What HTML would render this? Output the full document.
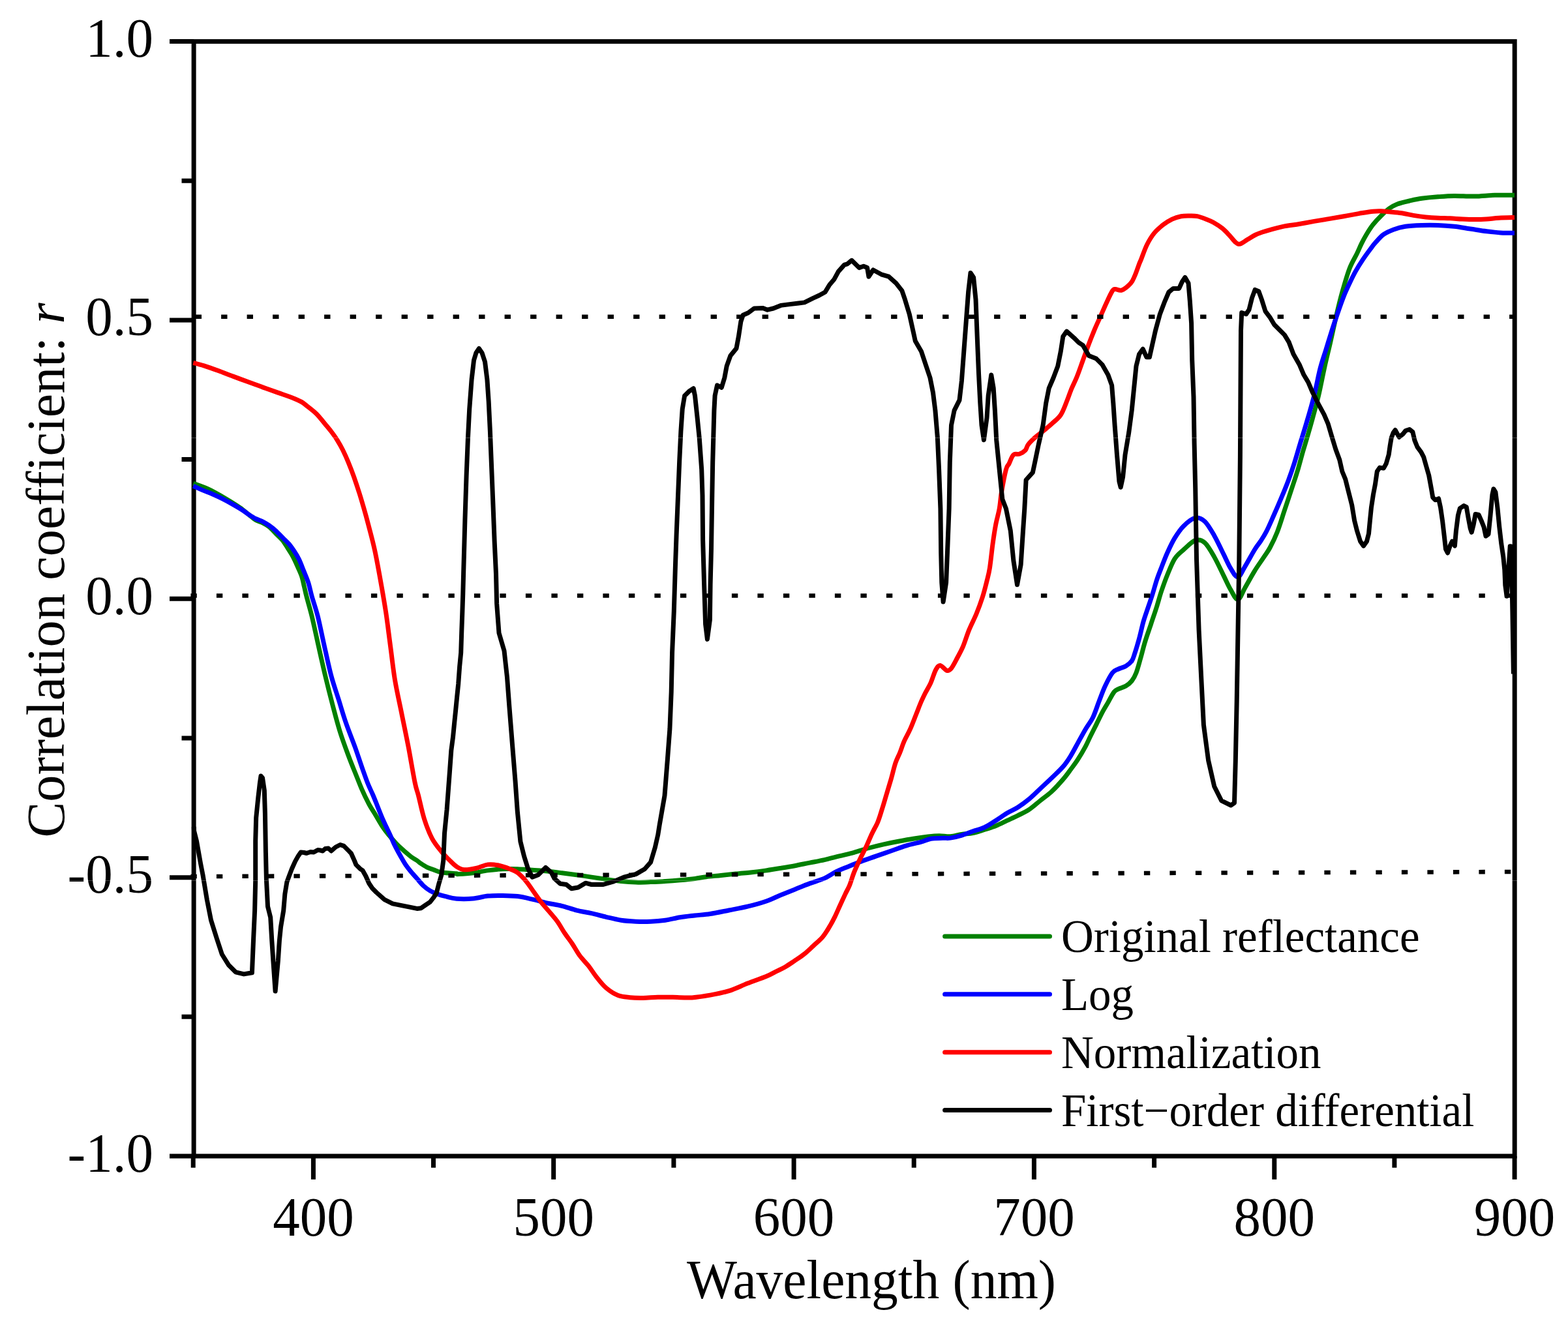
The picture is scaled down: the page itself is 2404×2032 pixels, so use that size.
<!DOCTYPE html>
<html><head><meta charset="utf-8"><title>Correlation coefficient chart</title>
<style>html,body{margin:0;padding:0;background:#fff;width:2404px;height:2032px;overflow:hidden}svg{display:block}</style>
</head><body>
<svg width="2404" height="2032" viewBox="0 0 2404 2032">
<rect width="2404" height="2032" fill="#fff"/>
<rect x="297.1" y="63.6" width="2025.1" height="1709.4" fill="none" stroke="#000" stroke-width="7"/>
<path fill="none" stroke="#000" stroke-width="7" d="M260 63.6 H297.1 M260 490.9 H297.1 M260 918.3 H297.1 M260 1345.7 H297.1 M260 1773 H297.1 M278.5 277.3 H297.1 M278.5 704.6 H297.1 M278.5 1132 H297.1 M278.5 1559.3 H297.1 M480.4 1773 V1808.8 M848.7 1773 V1808.8 M1217.1 1773 V1808.8 M1585.4 1773 V1808.8 M1953.8 1773 V1808.8 M2322.1 1773 V1808.8 M296.2 1773 V1790.8 M664.5 1773 V1790.8 M1032.9 1773 V1790.8 M1401.2 1773 V1790.8 M1769.6 1773 V1790.8 M2137.9 1773 V1790.8"/>
<g fill="none" stroke-linejoin="round" stroke-linecap="butt" stroke-width="7">
<path stroke="#008000" d="M296.3 741.3C300.4 742.8 313.2 747.2 320.6 750.6C328.1 754 334.2 757.9 341 761.8C347.8 765.7 356.3 770.9 361.4 774.1C366.5 777.3 368.2 778.7 371.6 781.2C375 783.8 378.4 786.7 381.8 789.4C385.2 792.1 388.6 795.6 392 797.6C395.4 799.6 398.8 799.9 402.2 801.6C405.6 803.3 409 805.1 412.4 807.8C415.8 810.5 419.3 814.6 422.7 818C426.1 821.4 429.8 824.5 432.9 828.2C435.9 831.9 438.3 836.1 441 840.4C443.7 844.6 446.8 849.3 449.2 853.7C451.6 858.1 453.1 862 455.3 866.9C457.5 871.8 460.5 877.8 462.4 883.3C464.3 888.8 465.2 894.8 466.5 900C467.8 905.2 467.9 906.8 469.9 914.4C471.8 922 475.3 933.4 478.2 945.4C481.1 957.4 483.9 971.1 487.3 986.2C490.7 1001.3 494.8 1020.1 498.6 1036C502.4 1051.9 506.2 1067 510 1081.4C513.8 1095.8 517.1 1109 521.3 1122.2C525.4 1135.4 530.9 1150 534.9 1160.8C538.9 1171.6 542.1 1179 545.4 1187.2C548.7 1195.4 551.2 1202.3 554.5 1209.9C557.8 1217.5 561.8 1225.8 565.4 1232.6C569 1239.4 572.7 1244.7 576.3 1250.7C579.9 1256.7 583.9 1263.8 587.2 1268.8C590.5 1273.8 592.7 1276.4 596.2 1280.6C599.7 1284.8 604.1 1290.1 608 1294.2C611.9 1298.3 616 1301.8 619.8 1305.1C623.6 1308.4 627.4 1311.7 630.7 1314.2C634 1316.7 637.5 1318.4 639.8 1320C642.1 1321.6 641.9 1322 644.3 1323.6C646.7 1325.2 651 1328.1 654.3 1329.8C657.6 1331.5 660.9 1332.3 664.2 1333.6C667.5 1334.8 671.1 1336.5 674.2 1337.3C677.3 1338.1 678.6 1338.2 682.9 1338.6C687.2 1339 696.7 1339.5 700 1339.8C703.3 1340.1 698.5 1340.8 702.7 1340.6C706.9 1340.4 717.9 1339.8 725.4 1338.8C732.9 1337.8 740.5 1335.9 748 1334.9C755.5 1333.9 763.1 1333.1 770.7 1332.7C778.3 1332.3 785.9 1332.5 793.4 1332.7C800.9 1333 808.5 1333.7 816 1334.2C823.5 1334.8 831.1 1335.2 838.7 1336C846.3 1336.8 853.8 1337.8 861.4 1338.8C869 1339.8 876.5 1340.7 884.1 1341.7C891.7 1342.8 899.2 1344 906.8 1345.1C914.3 1346.2 921.8 1347.4 929.4 1348.5C937 1349.6 944.5 1350.7 952.1 1351.5C959.7 1352.3 967.2 1352.9 974.8 1353.1C982.4 1353.3 990 1352.9 997.5 1352.6C1005 1352.3 1012.6 1352 1020.1 1351.5C1027.7 1351 1035.2 1350.4 1042.8 1349.7C1050.4 1349 1058.8 1348.2 1065.5 1347.4C1072.2 1346.6 1076 1345.5 1082.7 1344.7C1089.4 1343.9 1097.9 1343.2 1105.4 1342.4C1113 1341.6 1120.5 1340.8 1128 1340.1C1135.5 1339.3 1143.1 1338.7 1150.7 1337.9C1158.3 1337.1 1165.8 1336.2 1173.4 1335.1C1181 1334 1188.5 1332.7 1196.1 1331.5C1203.6 1330.3 1211.2 1329.1 1218.7 1327.7C1226.2 1326.3 1233.8 1324.6 1241.4 1323.1C1249 1321.6 1256.5 1320.3 1264.1 1318.6C1271.7 1316.9 1279.2 1314.8 1286.8 1312.9C1294.3 1311 1301.9 1309.4 1309.4 1307.3C1317 1305.2 1324.5 1302.6 1332.1 1300.5C1339.7 1298.4 1347.2 1296.5 1354.8 1294.8C1362.4 1293.1 1370 1291.6 1377.5 1290.2C1385 1288.8 1392.5 1287.4 1400.1 1286.2C1407.6 1285 1416.1 1283.8 1422.8 1283C1429.5 1282.2 1434.3 1281.7 1440 1281.7C1445.7 1281.7 1451.5 1283.2 1457.2 1282.8C1463 1282.4 1468.8 1280.2 1474.5 1279.4C1480.2 1278.6 1486 1278.9 1491.7 1277.7C1497.5 1276.5 1503.2 1274.3 1509 1272.5C1514.8 1270.7 1520.5 1269 1526.2 1266.7C1532 1264.4 1537.8 1261.4 1543.5 1258.7C1549.2 1256 1555 1253.5 1560.7 1250.6C1566.5 1247.7 1572.2 1245.2 1578 1241.4C1583.8 1237.6 1589.5 1232.2 1595.2 1227.6C1601 1223 1606.8 1219.2 1612.5 1213.8C1618.2 1208.4 1624.9 1201 1629.7 1195.4C1634.5 1189.9 1637.4 1185.7 1641.2 1180.5C1645 1175.3 1648.9 1170.4 1652.7 1164.4C1656.5 1158.5 1661 1150.7 1664.2 1144.8C1667.4 1138.9 1668.9 1134.8 1671.7 1129.2C1674.5 1123.6 1677.8 1117.1 1680.8 1111.1C1683.8 1105 1686.8 1098.6 1689.8 1092.9C1692.8 1087.2 1695.9 1082.4 1698.9 1077.1C1701.9 1071.8 1705.3 1064.6 1708 1061.2C1710.7 1057.8 1711.8 1058.1 1714.8 1056.6C1717.8 1055.1 1722.7 1054.2 1726.1 1052.1C1729.5 1050 1732.5 1047.6 1735.2 1044.2C1737.9 1040.8 1739.7 1037.6 1742 1031.7C1744.3 1025.8 1746.5 1016.9 1748.8 1009C1751.1 1001.1 1752.9 992.8 1755.6 984.1C1758.2 975.4 1761.7 966 1764.7 956.9C1767.7 947.8 1771.1 938 1773.7 929.7C1776.3 921.4 1777.8 915 1780.5 907C1783.2 899 1786.2 890.3 1789.6 882C1793 873.7 1796.8 863.6 1800.9 857.1C1805.1 850.6 1809.2 847.9 1814.5 843.2C1819.8 838.5 1827.2 830.5 1832.7 828.7C1838.2 826.9 1842.4 828.1 1847.2 832.3C1852 836.5 1856.9 845.6 1861.7 854.1C1866.5 862.6 1872 874.6 1876.2 883.1C1880.4 891.6 1883.5 898.9 1887.1 904.9C1890.7 910.9 1894.4 920 1898 919.4C1901.6 918.8 1904.7 908.5 1908.9 901.2C1913.1 893.9 1918.6 883.6 1923.4 875.8C1928.2 867.9 1934 860.1 1937.9 854.1C1941.8 848.1 1943.6 846.4 1947 840C1950.4 833.6 1954.5 825.4 1958.3 815.7C1962.1 806 1965.9 793 1969.7 781.7C1973.5 770.4 1977.6 758.1 1981 747.7C1984.4 737.3 1987.3 728.9 1990.1 719.4C1992.9 709.9 1995.5 699.5 1998 691C2000.5 682.5 2002.3 676.8 2004.8 668.3C2007.3 659.8 2010 650.3 2012.8 640C2015.6 629.7 2018.6 619.3 2021.6 606.5C2024.6 593.7 2027.7 577 2030.7 563.4C2033.7 549.8 2036.7 538.1 2039.7 524.9C2042.7 511.7 2045.8 497 2048.8 484.1C2051.8 471.2 2054.5 459.9 2057.9 447.8C2061.3 435.7 2065.4 421.3 2069.2 411.5C2073 401.7 2077.4 395.2 2080.5 388.8C2083.6 382.4 2085.1 378.2 2087.5 373.4C2089.9 368.5 2092 364.5 2094.9 359.7C2097.8 354.9 2101.2 349.5 2104.9 344.7C2108.7 339.9 2113.2 335.1 2117.4 331C2121.6 326.9 2125.7 322.8 2129.8 319.8C2134 316.8 2137.1 315 2142.3 313C2147.5 311 2154.8 309.4 2161 308C2167.2 306.6 2172.4 305.3 2179.7 304.3C2187 303.3 2196.3 302.4 2204.6 301.8C2212.9 301.2 2220.2 300.6 2229.5 300.5C2238.8 300.4 2250.2 301.3 2260.6 301.1C2271 300.9 2281.6 299.6 2291.8 299.3C2302 299 2317 299.3 2322 299.3"/>
<path stroke="#0000ff" d="M296.3 745.3C298.6 746.3 305.5 749.5 310.4 751.6C315.3 753.7 320.6 755.6 325.7 757.8C330.8 760 335.9 762.3 341 764.9C346.1 767.5 351.2 770.2 356.3 773.1C361.4 776 367.4 779.5 371.6 782.2C375.9 784.9 378.4 787.2 381.8 789.4C385.2 791.6 388.6 793.8 392 795.5C395.4 797.2 398.8 797.9 402.2 799.6C405.6 801.3 409 803.3 412.4 805.7C415.8 808.1 418.9 810.5 422.7 813.9C426.4 817.3 431.5 822.7 434.9 826.1C438.3 829.5 440.4 831.1 443.1 834.3C445.8 837.5 448.6 841.6 451.2 845.5C453.8 849.4 456 852.9 458.4 857.8C460.8 862.7 463.1 869.1 465.5 875.1C467.9 881.1 470.6 887 472.7 893.5C474.8 900 475.7 905.8 478.1 914.4C480.5 923 484.3 933.4 487.3 945.4C490.3 957.4 492.9 971.1 496.3 986.2C499.7 1001.3 503.9 1021.6 507.7 1036C511.5 1050.3 515.2 1060.2 519 1072.3C522.8 1084.4 526.2 1096.5 530.4 1108.6C534.6 1120.7 539.8 1133.3 544 1144.9C548.2 1156.5 552.1 1168.8 555.4 1178.1C558.7 1187.4 560.9 1194 563.6 1200.8C566.3 1207.6 569.1 1213 571.7 1219C574.3 1225 576.6 1231.1 579 1237.1C581.4 1243.1 584 1249.9 586.3 1255.2C588.6 1260.5 590.5 1264.3 592.6 1268.8C594.7 1273.3 597.1 1278.2 599 1282.4C600.9 1286.6 602.1 1290 604 1294C605.9 1298 608.3 1302.5 610.5 1306.5C612.7 1310.5 615 1314.6 617 1318C619 1321.4 620.4 1324 622.5 1327C624.6 1330 626.6 1332.6 629.4 1336C632.2 1339.4 636 1343.5 639.3 1347.3C642.6 1351 646 1355.4 649.3 1358.5C652.6 1361.6 655.8 1363.9 659.3 1366C662.8 1368.1 666.6 1369.5 670.5 1371C674.4 1372.5 678 1373.5 682.9 1374.7C687.8 1375.9 692.9 1377.7 700 1378.2C707.1 1378.8 717.4 1378.7 725.4 1378C733.4 1377.3 740.5 1374.8 748 1374.1C755.5 1373.3 763.1 1373.4 770.7 1373.5C778.3 1373.6 785.9 1373.7 793.4 1374.6C800.9 1375.5 808.5 1377.4 816 1379.1C823.5 1380.8 831.1 1383.1 838.7 1384.8C846.3 1386.5 853.8 1387.4 861.4 1389.3C869 1391.2 876.5 1394.2 884.1 1396.1C891.7 1398 899.2 1399 906.8 1400.7C914.3 1402.4 921.8 1404.5 929.4 1406.3C937 1408.1 944.5 1410.1 952.1 1411.3C959.7 1412.5 967.2 1412.9 974.8 1413.2C982.4 1413.5 990 1413.5 997.5 1413.2C1005 1412.9 1012.6 1412.4 1020.1 1411.3C1027.7 1410.2 1035.3 1408 1042.8 1406.8C1050.3 1405.6 1057.3 1404.9 1065 1404C1072.7 1403.1 1080 1402.8 1088.7 1401.5C1097.5 1400.2 1107.9 1397.9 1117.5 1396C1127.1 1394.1 1136.6 1392.5 1146.2 1390.2C1155.8 1387.9 1166.7 1384.9 1175 1382C1183.3 1379.1 1188.8 1376 1196.1 1373C1203.4 1370 1211.2 1366.9 1218.7 1363.9C1226.2 1360.9 1233.8 1357.7 1241.4 1354.9C1249 1352.1 1257.3 1349.9 1264.1 1346.9C1270.9 1343.9 1276.5 1339.5 1282.2 1336.7C1287.9 1333.9 1291.7 1332.5 1298.1 1329.9C1304.5 1327.3 1313.2 1323.7 1320.8 1320.9C1328.3 1318.1 1335.9 1315.6 1343.4 1312.9C1351 1310.2 1358.5 1307.6 1366.1 1305C1373.7 1302.4 1381.2 1299.4 1388.8 1297.1C1396.4 1294.8 1405.1 1293.2 1411.5 1291.4C1417.9 1289.6 1421.6 1287.2 1427.3 1286.2C1433 1285.2 1440.5 1285.5 1445.5 1285.3C1450.5 1285.1 1452.4 1285.8 1457.2 1285.1C1462 1284.4 1468.8 1282.8 1474.5 1281.1C1480.2 1279.4 1486 1276.8 1491.7 1274.8C1497.5 1272.8 1503.2 1271.7 1509 1269C1514.8 1266.3 1520.5 1262.3 1526.2 1258.7C1532 1255.1 1537.8 1250.7 1543.5 1247.2C1549.2 1243.8 1555 1241.7 1560.7 1238C1566.5 1234.3 1572.2 1230.1 1578 1225.3C1583.8 1220.5 1589.5 1214.6 1595.2 1209.2C1601 1203.8 1606.8 1198.6 1612.5 1193.1C1618.2 1187.5 1624.9 1181.5 1629.7 1175.9C1634.5 1170.4 1637.4 1165.9 1641.2 1159.8C1645 1153.7 1648.9 1146 1652.7 1139.1C1656.5 1132.2 1660.4 1124.9 1664.2 1118.4C1668 1111.9 1672.2 1107.3 1675.7 1100C1679.2 1092.7 1682.2 1082.8 1685.3 1074.8C1688.4 1066.8 1691 1059.3 1694.4 1052.1C1697.8 1044.9 1702.3 1036 1705.7 1031.7C1709.1 1027.4 1711.4 1027.7 1714.8 1026C1718.2 1024.3 1722.7 1023.6 1726.1 1021.5C1729.5 1019.4 1732.9 1016.8 1735.2 1013.6C1737.5 1010.4 1737.8 1007.9 1739.7 1002.2C1741.6 996.5 1744.2 987.8 1746.5 979.5C1748.8 971.2 1751 960.2 1753.3 952.3C1755.6 944.4 1757.8 938.7 1760.1 931.9C1762.4 925.1 1764.6 918.7 1766.9 911.5C1769.2 904.3 1771.4 895.6 1773.7 888.8C1776 882 1777.8 877.5 1780.5 870.7C1783.2 863.9 1786.2 855.5 1789.6 848C1793 840.5 1796.8 832.2 1800.9 825.4C1805.1 818.5 1809.2 812.1 1814.5 806.9C1819.8 801.7 1827.2 795.4 1832.7 794.2C1838.2 793 1842.4 795.2 1847.2 799.7C1852 804.2 1856.9 813 1861.7 821.4C1866.5 829.8 1872 841.9 1876.2 850.4C1880.4 858.9 1883.5 866.5 1887.1 872.2C1890.7 878 1894.4 885.5 1898 884.9C1901.6 884.3 1904.7 875.5 1908.9 868.6C1913.1 861.7 1919.5 849.6 1923.4 843.2C1927.3 836.9 1929.3 835.1 1932.3 830.5C1935.3 825.9 1937.9 822.3 1941.3 815.7C1944.7 809.1 1948.9 799.3 1952.7 790.8C1956.5 782.3 1960.2 773.8 1964 764.7C1967.8 755.6 1972 745.5 1975.4 736.4C1978.8 727.3 1981.4 719.8 1984.4 710.3C1987.4 700.8 1990.3 690.2 1993.5 679.7C1996.7 669.2 1999.9 659.5 2003.4 647.3C2007 635.1 2011.4 620.1 2014.8 606.5C2018.2 592.9 2020.9 577.4 2023.9 565.7C2026.9 554 2029.9 546 2032.9 536.2C2035.9 526.4 2039 516.2 2042 506.8C2045 497.4 2048.1 488.2 2051.1 479.5C2054.1 470.8 2057.1 462.2 2060.1 454.6C2063.1 447.1 2066.2 440.6 2069.2 434.2C2072.2 427.8 2074.9 422.2 2078.3 416.1C2081.7 410.1 2085.8 403.6 2089.6 397.9C2093.4 392.2 2097.8 386.3 2101 382C2104.2 377.7 2105.3 375.9 2108.7 372.2C2112 368.5 2116.5 363 2121.1 359.7C2125.7 356.4 2130.5 354.3 2136.1 352.2C2141.7 350.1 2147.4 348.3 2154.7 347.2C2162 346.1 2171.4 345.7 2179.7 345.4C2188 345.1 2196.3 345.1 2204.6 345.4C2212.9 345.7 2221.2 346.3 2229.5 347.2C2237.8 348.1 2246.1 349.8 2254.4 351C2262.7 352.2 2271 353.7 2279.3 354.7C2287.6 355.7 2297.1 356.8 2304.2 357.2C2311.3 357.6 2319 357.2 2322 357.2"/>
<path stroke="#ff0000" d="M296.3 556.3C299 557 306.2 558.7 312.7 560.8C319.2 562.9 327.8 566 335.4 568.8C342.9 571.6 350.4 574.6 358 577.4C365.6 580.2 373.1 583 380.7 585.8C388.3 588.6 395.8 591.4 403.4 594.1C410.9 596.8 418.4 599.4 426 602.1C433.6 604.8 442.6 607.8 448.7 610.2C454.8 612.6 458.5 614.2 462.3 616.4C466.1 618.6 467.6 620.2 471.4 623.2C475.2 626.2 480.5 630 485 634.5C489.5 639 494.8 645.8 498.6 650.4C502.4 655 504.9 657.9 508 662C511.1 666.1 514.1 670.1 517 674.8C519.9 679.5 522.7 684.3 525.5 690C528.3 695.7 531.2 702 534 708.8C536.8 715.6 539.7 723 542.5 731C545.3 739 548.4 748.3 551 756.5C553.6 764.7 555.7 772.1 558 780C560.3 787.9 561.8 793.3 564.6 804.1C567.4 814.9 571.4 829 574.8 844.9C578.2 860.8 582.2 883.4 585 899.3C587.8 915.2 589.5 924.8 591.8 940.1C594.1 955.4 596.3 974.2 598.6 991.2C600.9 1008.2 602.6 1025.2 605.4 1042.2C608.2 1059.2 612.2 1076.2 615.6 1093.2C619 1110.2 622.5 1126.4 625.9 1144.2C629.3 1162 633.5 1187.4 636.1 1200C638.7 1212.6 639 1210.3 641.4 1219.6C643.8 1228.9 646.9 1244.7 650.4 1255.7C653.9 1266.7 657.9 1277.3 662.4 1285.8C666.9 1294.3 673.2 1301.4 677.5 1306.8C681.8 1312.2 684.2 1314.3 688 1318C691.8 1321.7 696 1326.4 700 1329C704 1331.6 706.7 1333.4 711.7 1333.8C716.7 1334.2 723.9 1332.8 729.9 1331.5C735.9 1330.2 742.3 1326.7 748 1325.9C753.7 1325.2 758.2 1325.9 763.9 1327C769.6 1328.1 777.1 1330.8 782 1332.7C786.9 1334.6 789.2 1335.1 793.4 1338.3C797.6 1341.5 802.9 1347 807 1351.9C811.1 1356.8 814.5 1362.5 818.3 1367.8C822.1 1373.1 825.5 1378.4 829.7 1383.7C833.9 1389 839.1 1394.6 843.3 1399.5C847.4 1404.4 850.8 1407.9 854.6 1413.2C858.4 1418.5 862.1 1425.6 865.9 1431.3C869.7 1437 873.5 1441.5 877.3 1447.2C881.1 1452.9 884.5 1459.6 888.6 1465.3C892.8 1471 898 1475.9 902.2 1481.2C906.4 1486.5 909.1 1491.4 913.6 1497.1C918.1 1502.8 923.7 1510.3 929.4 1515.2C935.1 1520.1 941.5 1524.1 947.6 1526.5C953.7 1528.9 959.3 1529 965.7 1529.7C972.1 1530.4 978.9 1530.5 986.1 1530.4C993.3 1530.3 1001.2 1529.5 1008.8 1529.3C1016.4 1529.1 1022.8 1529.2 1031.5 1529.3C1040.2 1529.4 1051.5 1530.4 1061 1529.9C1070.5 1529.4 1079.3 1527.8 1088.7 1526.1C1098.1 1524.4 1107.9 1522.6 1117.5 1519.6C1127.1 1516.6 1136.6 1511.8 1146.2 1508.1C1155.8 1504.4 1167.8 1500.3 1175 1497.3C1182.2 1494.3 1184.6 1492.5 1189.4 1490.1C1194.2 1487.7 1198.9 1485.8 1203.7 1483C1208.5 1480.2 1213.3 1476.8 1218.1 1473.6C1222.9 1470.4 1227.7 1467.4 1232.5 1463.6C1237.3 1459.8 1242.1 1455 1246.9 1450.6C1251.7 1446.2 1257.1 1441.8 1261.2 1437C1265.3 1432.2 1268.2 1427.1 1271.3 1421.9C1274.4 1416.8 1277.3 1411.4 1279.9 1406.1C1282.5 1400.8 1284.5 1396 1287.1 1390.2C1289.7 1384.5 1293.2 1377 1295.7 1371.6C1298.2 1366.2 1300.1 1363.6 1302.4 1358C1304.7 1352.4 1306.7 1344.7 1309.4 1337.9C1312.1 1331.2 1315.5 1323.9 1318.5 1317.5C1321.5 1311.1 1324.6 1305.7 1327.6 1299.3C1330.6 1292.9 1333.6 1285.3 1336.6 1278.9C1339.6 1272.5 1343 1267.2 1345.7 1260.8C1348.4 1254.4 1350.2 1247.6 1352.5 1240.4C1354.8 1233.2 1357 1225.3 1359.3 1217.7C1361.6 1210.1 1363.8 1202.9 1366.1 1195C1368.4 1187.1 1370.6 1176.9 1372.9 1170.1C1375.2 1163.3 1377.4 1159.9 1379.7 1154.2C1382 1148.5 1383.8 1142.1 1386.5 1136.1C1389.2 1130 1392.6 1124.7 1395.6 1117.9C1398.6 1111.1 1402 1101.9 1404.7 1095.2C1407.4 1088.5 1409.3 1083.2 1411.5 1078C1413.7 1072.8 1415.5 1069.1 1418 1064C1420.5 1058.9 1424 1053.7 1426.8 1047.6C1429.6 1041.5 1432.2 1031.7 1434.7 1027.2C1437.2 1022.7 1438.7 1020.2 1441.5 1020.4C1444.3 1020.6 1448.9 1027.5 1451.7 1028.3C1454.5 1029 1455.8 1028.1 1458.5 1024.9C1461.2 1021.7 1464.6 1014.7 1467.6 1009C1470.6 1003.3 1473.7 998.1 1476.7 990.9C1479.7 983.7 1482.4 974.2 1485.8 965.9C1489.2 957.6 1493.7 949.3 1497.1 941C1500.5 932.7 1503.5 924.4 1506.2 916.1C1508.9 907.8 1511.1 898.7 1513 891.1C1514.9 883.5 1516 880.2 1517.5 870.7C1519 861.2 1520.5 845.4 1522 834.4C1523.5 823.4 1524.9 814 1526.6 804.9C1528.3 795.8 1530.7 788.5 1532.2 780C1533.7 771.5 1533.9 764.1 1535.6 754.1C1537.3 744.1 1540.5 727.3 1542.4 720.1C1544.3 712.9 1545.1 714.9 1547 711.1C1548.9 707.3 1551.1 700 1553.8 697.5C1556.5 695 1559.9 697.4 1562.9 696.3C1565.9 695.2 1569.6 693.2 1571.9 690.7C1574.2 688.2 1573.8 685 1576.5 681.6C1579.2 678.2 1584 673.6 1587.8 670.2C1591.6 666.8 1594.9 664.6 1599.1 661.2C1603.2 657.8 1608.2 654 1612.7 649.8C1617.2 645.6 1622.5 641.9 1626.3 636.2C1630.1 630.5 1632.8 622.2 1635.4 615.8C1638.1 609.4 1639.6 604.1 1642.2 597.7C1644.8 591.3 1648.3 584.9 1651.3 577.3C1654.3 569.7 1657.4 560.6 1660.4 552.3C1663.4 544 1666.4 535.3 1669.4 527.4C1672.4 519.5 1675.5 511.9 1678.5 504.7C1681.5 497.5 1684.6 491.1 1687.6 484.3C1690.6 477.5 1693.6 470.3 1696.6 463.9C1699.6 457.5 1703.4 449.2 1705.7 445.8C1708 442.4 1707.8 443.6 1710.2 443.5C1712.6 443.4 1716.1 446.5 1720 445C1723.9 443.5 1730.3 438 1733.6 434.4C1736.9 430.8 1737.5 428 1739.7 423.1C1741.9 418.2 1744.9 409.1 1746.5 404.9C1748.1 400.7 1747.5 402.8 1749.5 397.9C1751.5 392.9 1755.1 382 1758.5 375.2C1761.9 368.4 1765.7 362.2 1769.9 357.1C1774.1 352 1779 348.1 1783.5 344.6C1788 341.1 1792.6 338.4 1797.1 336.2C1801.6 334 1806.2 332.6 1810.7 331.7C1815.2 330.8 1820.2 331 1824.3 331C1828.4 331 1831.4 330.8 1835.6 331.7C1839.8 332.6 1845.1 334.6 1849.3 336.2C1853.5 337.8 1856.4 338.8 1860.6 341.2C1864.8 343.6 1870 346.9 1874.2 350.3C1878.4 353.7 1882.1 358 1885.5 361.6C1888.9 365.2 1891.9 369.7 1894.6 371.8C1897.2 373.9 1898.4 374.9 1901.4 374.1C1904.4 373.4 1908.9 369.6 1912.7 367.3C1916.5 365 1920.3 362.4 1924.1 360.5C1927.9 358.6 1931.6 357.3 1935.4 356C1939.2 354.7 1941.1 354.1 1946.8 352.6C1952.5 351.1 1961.9 348.4 1969.4 346.9C1977 345.4 1984.5 344.8 1992.1 343.5C1999.7 342.2 2007.2 340.7 2014.8 339.4C2022.4 338.1 2030 336.9 2037.5 335.6C2045 334.3 2052.5 333 2060.1 331.7C2067.7 330.4 2075.3 328.9 2082.8 327.6C2090.3 326.4 2099.1 324.8 2104.9 324.2C2110.7 323.6 2113.2 323.7 2117.4 323.8C2121.6 323.9 2124.6 324.3 2129.8 324.8C2135 325.3 2142.3 325.8 2148.5 326.7C2154.7 327.6 2161 329.4 2167.2 330.4C2173.4 331.4 2179.7 332.3 2185.9 332.9C2192.1 333.5 2198.4 333.9 2204.6 334.2C2210.8 334.5 2217.1 334.5 2223.3 334.8C2229.5 335.1 2235.8 335.7 2242 336C2248.2 336.3 2254.4 336.6 2260.6 336.6C2266.8 336.6 2273.1 336.4 2279.3 336C2285.5 335.6 2290.9 334.6 2298 334.2C2305.1 333.8 2318 333.6 2322 333.5"/>
<path stroke="#000" d="M297.2 1268 297.5 1274 301.5 1290 304.5 1307 307.5 1324 311 1341.9 317.3 1379.6 323.5 1411.1 332 1438.3 340.3 1463.5 350.8 1480.3 361.3 1490.8 373.9 1493.9 386.4 1491.8 388.5 1442.5 390.6 1396.4 391.7 1350.3 391.7 1289.5 392.7 1253.9 395.9 1222.4 398.5 1200 400 1190 402.5 1193 405.3 1211.9 406.4 1247.6 407.4 1306.3 408.4 1348.2 410.5 1390.1 414.7 1406.9 416.8 1442.5 418.9 1474 422.1 1520.1 426.3 1474 428.4 1442.5 430.5 1421.6 434.7 1396.4 436.8 1371.3 439.9 1352.4 443.7 1342.3 447.5 1332.3 452.5 1321.1 457.4 1312.4 461.2 1307 466.2 1307.5 470 1308.5 476 1306.5 481 1307 487.3 1303.5 491.1 1304 494.8 1305 498.6 1301.5 503.5 1301 507.9 1305 514.7 1299 521.6 1295.5 527.2 1297.4 534.7 1304.9 538.4 1308.7 543.4 1319.9 545.9 1326.1 552.1 1332.3 555.9 1334.8 560.8 1343.5 565.8 1354.7 570.8 1362.2 577 1368.5 589.5 1379.7 602 1385.9 614.4 1388.4 626.9 1390.9 639.3 1393.4 645.6 1392.7 651.8 1388.4 659.3 1383.4 664.2 1377.2 669.2 1369.7 673 1354.7 676.7 1342.3 679.7 1320 681.5 1278 685.1 1241.6 687.8 1205.4 689.7 1180 691.8 1150.9 694.5 1130.5 696.5 1110.1 698.6 1089.7 700.6 1069.3 702.7 1048.8 704.7 1021.6 706.7 1001.2 707.8 967.2 708.8 940 709.8 910 710.6 880 712.9 797.5 715.1 729.4 717.4 672.7 719.7 627.4 723.1 582 726.5 552.6 729.9 541.2 734.4 534.4 739 541.2 743.5 554.8 746.9 582 749.2 616 751.4 661.4 753.7 718.1 756 774.8 758.2 831.5 760.5 880 761.6 925.4 765 970.7 773 997.9 777.5 1038.7 780.9 1084.1 785.4 1140.8 790 1197.5 793.4 1245.4 797.9 1290.7 803.6 1313.4 809.3 1331.5 816 1345.1 825.1 1341.7 836.5 1330.4 845.5 1338.3 850.1 1347.4 859.1 1355.3 868.2 1356.5 876.1 1362.8 886.3 1361 897.7 1354.2 906.8 1356.5 924.9 1356.5 940.8 1351.9 956.6 1345.1 974.8 1340.6 988.4 1332.7 997.5 1322.4 1004.3 1299.8 1008.8 1280 1011.1 1265.5 1019 1220.1 1023.5 1163.4 1026.9 1118.1 1029.2 1061.4 1030.6 1000 1033.3 936.9 1035.4 868.8 1037.1 820.1 1039.4 763.4 1041.7 706.8 1043.9 661.4 1046.2 627.4 1049.6 607 1056.4 600.2 1063.2 595.6 1065.5 607 1068.9 638.7 1072.3 672.7 1075.7 720 1077 760 1077.6 828 1079.6 896 1081.6 957.3 1084.4 980.4 1088.4 950.5 1089.1 896 1090.5 841.6 1091.8 760 1092.7 708.8 1094.9 629.4 1096.1 606.8 1099.5 590.9 1106.3 594.3 1110.8 579.5 1114.2 561.4 1119.9 545.5 1129 534.2 1132.4 516 1135.8 493.4 1139.2 483.2 1147.1 479.8 1156.2 473 1169.8 472.5 1176.6 475.2 1185.6 473 1197 468.4 1210.6 466.6 1224.2 465 1233.3 463.9 1246.9 457.1 1255.9 453 1265 448 1271.8 436.7 1278.6 428.8 1285.4 416.3 1294.5 406.1 1299 404.9 1305.8 399.3 1317.2 410.6 1324 408.3 1329.6 410.6 1331.9 424.2 1338.7 414 1351.2 420.8 1362.5 424.2 1373.9 434.4 1382.9 445.8 1387.5 459.4 1394.3 482 1398.8 502.4 1403.3 522.9 1412.4 538.7 1419.2 559.1 1426 579.5 1430.5 602.2 1433.9 629.4 1437.3 670.2 1439.6 720.1 1441.9 780 1442.7 848 1443.8 893.4 1446.1 922.9 1450.6 893.4 1452.9 836.7 1455.1 780 1456.3 708.8 1458.5 652.1 1463.1 629.4 1471 613.6 1474.4 584.1 1477.8 538.7 1481.2 493.4 1484.6 448 1488 418.5 1492.6 425.4 1496 459.4 1498.2 516 1500.5 572.7 1502.8 618.1 1505 652.1 1508.4 674.8 1513 640.8 1515.2 606.8 1519.8 575 1523.2 595.4 1525.4 629.4 1527.7 674.8 1531.1 708.8 1534.5 742.8 1536.8 765.5 1542.4 780 1549.3 814 1553.8 859.4 1559.5 896.8 1565.1 866.2 1568.5 814 1570.8 780 1573.1 736 1583.3 724.7 1586.7 708.8 1592.3 681.6 1599.1 652.1 1603.7 618.1 1608.2 595.4 1615 579.5 1621.8 561.4 1626.3 538.7 1629.8 516 1635.4 508.1 1646.8 518.3 1653.6 525.1 1660.4 529.7 1669.4 545.5 1680.8 550.1 1689.8 559.1 1698.9 575 1704.6 590.9 1706.8 618.1 1709.1 652.1 1712.5 697.5 1715.9 738.3 1718.2 747.3 1721.6 731.5 1725 697.5 1730.7 663.4 1735.2 629.4 1738.6 595.4 1742 561.4 1746.5 543.3 1752.2 535.3 1757.9 547.8 1762.4 547.8 1766.9 527.4 1771.5 507 1778.3 482 1785.1 463.9 1791.9 448 1798.7 442.4 1807.7 442.4 1812.3 432.2 1816.8 425.4 1822 434.2 1824.3 461.4 1826.6 495.4 1827.7 552.1 1830 608.8 1831.1 680 1832.7 748.9 1834.5 857.7 1838.1 966.6 1841.7 1039.1 1845.4 1111.7 1852.6 1166.1 1861.7 1206 1872.6 1227.8 1887.1 1235 1892.5 1231.4 1894.3 1166.1 1896.2 1075.4 1898 966.6 1899.8 857.7 1901.4 700 1902.5 506.8 1903.7 479.5 1910.5 481.8 1915 475 1919.5 456.9 1924.1 444.4 1929.8 446.7 1934.3 459.1 1940 477.3 1946.8 486.3 1953.6 497.7 1962.6 506.8 1969.4 513.6 1976.2 524.9 1983 543 1992.1 558.9 1998.9 574.8 2005.7 586.1 2012.5 602 2021.6 620.1 2030 635.7 2036 649.6 2041.9 669.4 2047.9 689.3 2053.8 705.2 2057.8 723 2062.7 734.9 2067.7 754.8 2072.7 774.6 2076.6 798.4 2080.6 814.3 2085.6 830.2 2090.5 837.1 2095.5 830.2 2098.5 818.3 2100.4 798.4 2102.4 778.6 2105.4 758.7 2108.4 742.9 2111.3 723 2115.3 717.1 2121.3 718.1 2125.2 711.1 2129.2 697.2 2131.2 683.3 2133.2 671.4 2136.2 663.5 2139.1 659.5 2145.1 670.4 2151 665.5 2155 660.5 2161 658.5 2165.9 662.5 2168.9 675.4 2172.9 685.3 2178.8 693.3 2182.8 701.2 2186.7 715.1 2190.7 729 2194.7 750.8 2196.7 762.7 2200.6 766.7 2205.6 764.7 2208.6 778.6 2211.5 798.4 2214.5 824.2 2216.5 842.1 2219.5 848 2223.5 836.1 2226.4 830.2 2230.4 837.1 2232.4 814.3 2235.4 790.5 2238.3 779.6 2244.3 775.6 2248.3 777.6 2251.2 794.4 2254.2 810.3 2256.2 816.3 2259.2 804.4 2262.1 788.5 2267.1 789.5 2271.1 798.4 2275 808.3 2278 822.2 2282 819.2 2285 790.5 2287.9 758.7 2289.9 749.8 2292.9 754.8 2295.9 778.6 2298.8 808.3 2301.8 834.1 2304.8 854 2306.8 873.8 2307.8 897.6 2310.1 914.3 2313.7 860 2315.2 837.7 2317 838 2318.9 937.8 2320.4 1033.5"/>
</g>
<line x1="299.6" y1="485.8" x2="2322.2" y2="485.7" stroke="#000" stroke-width="6.6" stroke-dasharray="9.4 30.1"/>
<line x1="292.4" y1="913.5" x2="2322.2" y2="913.5" stroke="#000" stroke-width="6.6" stroke-dasharray="9.4 30.1"/>
<line x1="292.4" y1="1344.1" x2="2322.2" y2="1337" stroke="#000" stroke-width="6.6" stroke-dasharray="9.4 30.1"/>
<g font-family='"Liberation Serif", "Times New Roman", serif' fill="#000">
<text x="235" y="0" font-size="83" text-anchor="end" transform="translate(0 87.1) scale(1 1.01)">1.0</text>
<text x="235" y="0" font-size="83" text-anchor="end" transform="translate(0 514.4) scale(1 1.01)">0.5</text>
<text x="235" y="0" font-size="83" text-anchor="end" transform="translate(0 941.8) scale(1 1.01)">0.0</text>
<text x="235" y="0" font-size="83" text-anchor="end" transform="translate(0 1369.2) scale(1 1.01)">-0.5</text>
<text x="235" y="0" font-size="83" text-anchor="end" transform="translate(0 1796.5) scale(1 1.01)">-1.0</text>
<text x="480.4" y="0" font-size="83" text-anchor="middle" transform="translate(0 1895.3) scale(1 1.01)">400</text>
<text x="848.7" y="0" font-size="83" text-anchor="middle" transform="translate(0 1895.3) scale(1 1.01)">500</text>
<text x="1217.1" y="0" font-size="83" text-anchor="middle" transform="translate(0 1895.3) scale(1 1.01)">600</text>
<text x="1585.4" y="0" font-size="83" text-anchor="middle" transform="translate(0 1895.3) scale(1 1.01)">700</text>
<text x="1953.8" y="0" font-size="83" text-anchor="middle" transform="translate(0 1895.3) scale(1 1.01)">800</text>
<text x="2322.1" y="0" font-size="83" text-anchor="middle" transform="translate(0 1895.3) scale(1 1.01)">900</text>
<text x="1336" y="0" font-size="81.5" text-anchor="middle" transform="translate(0 1991) scale(1 1.05)">Wavelength (nm)</text>
<text x="0" y="0" font-size="82.2" text-anchor="middle" transform="translate(98 874.5) rotate(-90)">Correlation coefficient: <tspan font-style="italic">r</tspan></text>
<line x1="1448.6" y1="1435.9" x2="1609.5" y2="1435.9" stroke="#008000" stroke-width="7" stroke-linecap="round"/>
<text x="1627" y="0" font-size="69" transform="translate(0 1459.9) scale(1 1.04)">Original reflectance</text>
<line x1="1448.6" y1="1524.8" x2="1609.5" y2="1524.8" stroke="#0000ff" stroke-width="7" stroke-linecap="round"/>
<text x="1627" y="0" font-size="69" transform="translate(0 1548.8) scale(1 1.04)">Log</text>
<line x1="1448.6" y1="1613.7" x2="1609.5" y2="1613.7" stroke="#ff0000" stroke-width="7" stroke-linecap="round"/>
<text x="1627" y="0" font-size="69" transform="translate(0 1637.7) scale(1 1.04)">Normalization</text>
<line x1="1448.6" y1="1702.6" x2="1609.5" y2="1702.6" stroke="#000" stroke-width="7" stroke-linecap="round"/>
<text x="1627" y="0" font-size="69" transform="translate(0 1726.6) scale(1 1.04)">First−order differential</text>
</g>
<rect x="0" y="671" width="2404" height="1" fill="#fff" opacity="0.25"/><rect x="0" y="1350" width="2404" height="1" fill="#fff" opacity="0.25"/>
</svg>
</body></html>
